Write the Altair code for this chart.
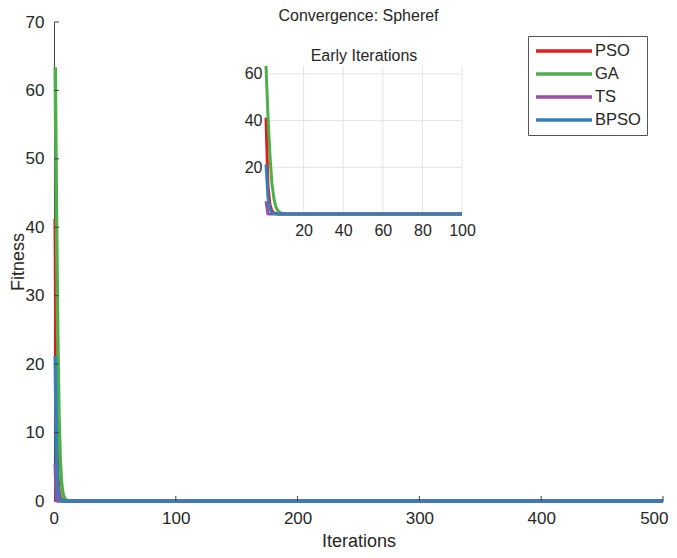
import altair as alt
import pandas as pd

# ---------------- data ----------------
series_names = ["PSO", "GA", "TS", "BPSO"]
series_colors = ["#e41a1c", "#4daf4a", "#984ea3", "#377eb8"]

iterations = [1, 2, 3, 4, 5, 6, 7, 8, 9, 10, 11, 12, 15, 20, 50, 100, 200, 300, 400, 500]
pso = [41.2, 12.0, 4.0, 1.4, 0.5, 0.18, 0.07, 0.03, 0.01, 0.005, 0.002, 0.001, 0.0, 0.0, 0.0, 0.0, 0.0, 0.0, 0.0, 0.0]
ga = [63.4, 42.0, 25.0, 13.0, 6.5, 3.0, 1.4, 0.65, 0.3, 0.14, 0.06, 0.03, 0.01, 0.0, 0.0, 0.0, 0.0, 0.0, 0.0, 0.0]
ts = [5.5, 0.1, 0.01, 0.0, 0.0, 0.0, 0.0, 0.0, 0.0, 0.0, 0.0, 0.0, 0.0, 0.0, 0.0, 0.0, 0.0, 0.0, 0.0, 0.0]
bpso = [21.2, 7.0, 2.0, 0.6, 0.18, 0.06, 0.02, 0.01, 0.0, 0.0, 0.0, 0.0, 0.0, 0.0, 0.0, 0.0, 0.0, 0.0, 0.0, 0.0]

main_x_ticks = [0, 100, 200, 300, 400, 500]
main_y_ticks = [0, 10, 20, 30, 40, 50, 60, 70]
inset_x_ticks = [20, 40, 60, 80, 100]
inset_y_ticks = [20, 40, 60]

chart_title = "Convergence: Spheref"
inset_title_text = "Early Iterations"

values = {"PSO": pso, "GA": ga, "TS": ts, "BPSO": bpso}
rows = []
for name in series_names:
    for it, v in zip(iterations, values[name]):
        rows.append({"iteration": it, "fitness": v, "series": name})
df = pd.DataFrame(rows)
df_inset = df[df["iteration"] <= 100]

# ---------------- layout ----------------
W, H = 609, 479
FONT = "Liberation Sans"
TXT = "#262626"
AX = "#404040"

x_main = alt.Scale(domain=[0, 500], nice=False, zero=False)
y_main = alt.Scale(domain=[0, 70], nice=False)
x_in = alt.Scale(domain=[1, 100], range=[212, 408], nice=False, zero=False)
y_in = alt.Scale(domain=[0, 63.4], range=[192, 44], nice=False, zero=False)

color = alt.Color("series:N", scale=alt.Scale(domain=series_names, range=series_colors), title=None)

ax_x = alt.Axis(values=main_x_ticks, title="Iterations", ticks=False, grid=False,
                labelFlush=True, labelFlushOffset=5,
                domainColor=AX, labelFontSize=17, labelColor=TXT, labelPadding=9,
                titleFontSize=18, titleFontWeight="normal", titleColor=TXT,
                titleY=45, titleBaseline="alphabetic")
ax_y = alt.Axis(values=main_y_ticks, title="Fitness", ticks=False, grid=False, labelFlush=False,
                domainColor=AX, labelFontSize=17, labelColor=TXT, labelPadding=10,
                titleFontSize=18, titleFontWeight="normal", titleColor=TXT,
                titleX=-36, titleY=H / 2, titleAngle=270, titleAlign="center",
                titleBaseline="middle")
ax_xi = alt.Axis(values=inset_x_ticks, title=None, orient="bottom", offset=-(H - 192), labelFlush=False,
                 domain=False, ticks=False, grid=False, labelFontSize=16, labelColor=TXT, labelPadding=8)
ax_yi = alt.Axis(values=inset_y_ticks, title=None, orient="left", offset=-212, labelFlush=False,
                 domain=False, ticks=False, grid=False, labelFontSize=16, labelColor=TXT, labelPadding=4)

# ---- main panel ----
main_layers = []
for name in series_names:
    main_layers.append(
        alt.Chart(df).transform_filter(alt.datum.series == name)
        .mark_line(strokeWidth=3.5)
        .encode(
            x=alt.X("iteration:Q", scale=x_main, axis=ax_x),
            y=alt.Y("fitness:Q", scale=y_main, axis=ax_y),
            color=color,
        )
    )

xt = pd.DataFrame({"iteration": main_x_ticks[1:]})
yt = pd.DataFrame({"fitness": main_y_ticks[1:]})
xtick_rules = alt.Chart(xt).mark_rule(color=AX, strokeWidth=1).encode(
    x=alt.X("iteration:Q", scale=x_main, axis=ax_x), y=alt.value(H), y2=alt.value(H - 5))
ytick_rules = alt.Chart(yt).mark_rule(color=AX, strokeWidth=1).encode(
    y=alt.Y("fitness:Q", scale=y_main, axis=ax_y), x=alt.value(0), x2=alt.value(5))

title_mark = alt.Chart(pd.DataFrame({"t": [chart_title], "iteration": [250], "fitness": [70]})).mark_text(
    fontSize=16, color=TXT, baseline="alphabetic", align="center", dy=-1.5
).encode(x=alt.X("iteration:Q", scale=x_main, axis=ax_x),
         y=alt.Y("fitness:Q", scale=y_main, axis=ax_y), text="t:N")

main = alt.layer(*main_layers, xtick_rules, ytick_rules, title_mark)

# ---- inset panel ----
gx = pd.DataFrame({"iteration": inset_x_ticks, "fitness": 0.0, "f2": 63.4})
gy = pd.DataFrame({"fitness": inset_y_ticks, "iteration": 1.0, "i2": 100.0})
grid_v = alt.Chart(gx).mark_rule(color="#e3e3e3", strokeWidth=1).encode(
    x=alt.X("iteration:Q", scale=x_in, axis=ax_xi),
    y=alt.Y("fitness:Q", scale=y_in, axis=ax_yi),
    y2="f2:Q",
)
grid_h = alt.Chart(gy).mark_rule(color="#e3e3e3", strokeWidth=1).encode(
    y=alt.Y("fitness:Q", scale=y_in, axis=ax_yi),
    x=alt.X("iteration:Q", scale=x_in, axis=ax_xi),
    x2="i2:Q",
)
inset_layers = []
for name in series_names:
    inset_layers.append(
        alt.Chart(df_inset).transform_filter(alt.datum.series == name)
        .mark_line(strokeWidth=3)
        .encode(
            x=alt.X("iteration:Q", scale=x_in, axis=ax_xi),
            y=alt.Y("fitness:Q", scale=y_in, axis=ax_yi),
            color=color,
        )
    )
inset_title = alt.Chart(pd.DataFrame({"t": [inset_title_text], "iteration": [50.5], "fitness": [63.4]})).mark_text(
    fontSize=16, color=TXT, baseline="alphabetic", align="center", dy=-5
).encode(x=alt.X("iteration:Q", scale=x_in, axis=ax_xi),
         y=alt.Y("fitness:Q", scale=y_in, axis=ax_yi), text="t:N")

inset = alt.layer(grid_v, grid_h, *inset_layers, inset_title)

chart = (
    alt.layer(main, inset)
    .resolve_scale(x="independent", y="independent")
    .properties(
        width=W, height=H,
        autosize=alt.AutoSizeParams(type="none"),
        padding={"left": 46, "top": 14, "right": 6, "bottom": 49},
    )
    .configure(font=FONT)
    .configure_view(stroke=None)
    .configure_legend(orient="none", legendX=474, legendY=14, strokeColor="#555555",
                      fillColor="white", padding=6, symbolType="M-1,0H7", symbolStrokeWidth=3.5,
                      symbolSize=196, labelFontSize=16.5, labelColor=TXT, labelOffset=43, rowPadding=5)
)

chart.save("out.html", embed_options={"renderer": "svg", "actions": False})
